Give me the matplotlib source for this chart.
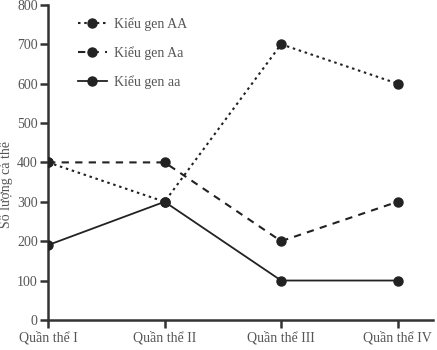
import matplotlib
matplotlib.use("Agg")
import matplotlib.pyplot as plt

# population counts per genotype
quan_the = ["Quần thể I", "Quần thể II", "Quần thể III", "Quần thể IV"]
gen_AA = [400, 300, 700, 600]
gen_Aa = [400, 400, 200, 300]
gen_aa = [190, 300, 100, 100]
y_ticks = [0, 100, 200, 300, 400, 500, 600, 700, 800]

plt.rcParams['font.family'] = ['Liberation Serif', 'DejaVu Serif']
text_col = '#555555'
line_col = '#222222'

fig = plt.figure(figsize=(4.37, 3.5), dpi=100)
ax = fig.add_axes([0.11, 0.086, 0.88, 0.9])

x = list(range(len(quan_the)))
ax.plot(x, gen_AA, linestyle=(0, (1.2, 1.8)), color=line_col, lw=1.5,
        marker='o', ms=6.5, label='Kiểu gen AA')
ax.plot(x, gen_Aa, linestyle=(0, (3.5, 3)), color=line_col, lw=1.5,
        marker='o', ms=6.5, label='Kiểu gen Aa')
ax.plot(x, gen_aa, linestyle='-', color=line_col, lw=1.3,
        marker='o', ms=6.5, label='Kiểu gen aa')

ax.set_xlim(0, 3.3)
ax.set_ylim(0, 800)
ax.set_xticks(x)
ax.set_xticklabels(quan_the)
ax.set_yticks(y_ticks)
ax.set_ylabel('Số lượng cá thể', color=text_col, fontsize=10)
ax.yaxis.set_label_coords(-0.092, 0.43)

for s in ['top', 'right']:
    ax.spines[s].set_visible(False)
for s in ['left', 'bottom']:
    ax.spines[s].set_color('#333333')
    ax.spines[s].set_linewidth(1.8)
ax.tick_params(axis='both', colors='#333333', width=1.8, length=6,
               labelcolor=text_col, labelsize=10, pad=2)
ax.tick_params(axis='y', pad=1.5)
ax.spines['left'].set_zorder(0)

leg = ax.legend(loc='upper left', bbox_to_anchor=(0.045, 1.0), frameon=False,
                fontsize=10, handlelength=2.1, handletextpad=0.5,
                labelspacing=1.1)
for t in leg.get_texts():
    t.set_color(text_col)

fig.savefig('out.png', dpi=100)
